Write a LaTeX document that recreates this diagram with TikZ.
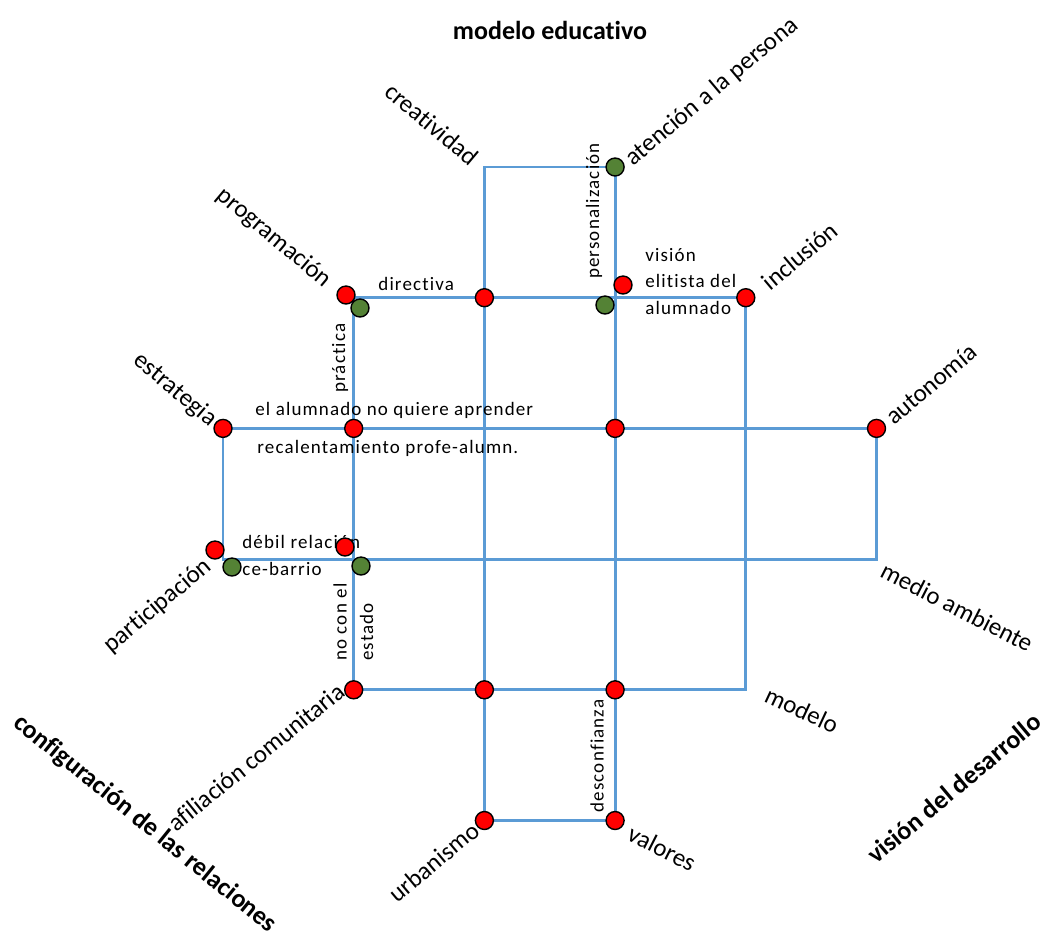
\documentclass[tikz,border=0pt]{standalone}
\usepackage{fontspec}
\setmainfont{Carlito}[Ligatures=NoCommon]
\newfontfamily\notefont[LetterSpace=6,Ligatures=NoCommon]{Carlito}
\usepackage{xcolor}
\usetikzlibrary{math}
\definecolor{qline}{RGB}{91,155,213}
\definecolor{qred}{RGB}{255,0,0}
\definecolor{qgreen}{RGB}{84,130,53}

\tikzset{
  grid line/.style={color=qline, line width=1.4pt},
  red dot/.style={circle, draw=black, fill=qred, line width=0.7pt, inner sep=0pt, minimum size=9pt},
  green dot/.style={red dot, fill=qgreen},
  axis label/.style={font=\fontsize{12.5}{15}\selectfont, inner sep=0pt},
  title label/.style={font=\fontsize{13}{15}\selectfont\bfseries, inner sep=0pt},
  note label/.style={font=\notefont\fontsize{9.5}{13.25}\selectfont, inner sep=0pt},
}

\begin{document}
\begin{tikzpicture}[x=0.5pt, y=-0.5pt]
\tikzmath{
\gx = 223;
\gy = 167;
\gd = 130.7;
}
\useasboundingbox (0,0) rectangle (1045,934);

\foreach \i in {0,...,5}
  \foreach \j in {0,...,5}
    \coordinate (g\i\j) at ({\gx+\gd*\i},{\gy+\gd*\j});

\draw[grid line] (g11) rectangle (g44);
\draw[grid line] (g20) rectangle (g35);
\draw[grid line] (g02) rectangle (g53);

\node[title label] (educativo) at (550,30) {modelo educativo};
\node[title label, rotate=-39] (relaciones) at (145,824) {configuración de las relaciones};
\node[title label, rotate=40] (desarrollo) at (954,788) {visión del desarrollo};

\node[axis label, rotate=-40] (creatividad) at (432,124) {creatividad};
\node[axis label, rotate=40] (atencion) at (712,92) {atención a la persona};
\node[axis label, rotate=-40] (programacion) at (274,238) {programación};
\node[axis label, rotate=40] (inclusion) at (800,256) {inclusión};
\node[axis label, rotate=-40] (estrategia) at (175,390) {estrategia};
\node[axis label, rotate=40] (autonomia) at (931,384) {autonomía};
\node[axis label, rotate=40] (participacion) at (158,606) {participación};
\node[axis label, rotate=-27] (medio) at (957,607) {medio ambiente};
\node[axis label, rotate=-25] (modelo) at (802,710) {modelo};
\node[axis label, rotate=-27] (valores) at (662,848) {valores};
\node[axis label, rotate=39] (afiliacion) at (256,757) {afiliación comunitaria};
\node[axis label, rotate=40] (urbanismo) at (434,862) {urbanismo};

\node[note label, anchor=base west] (directiva) at (378,290) {directiva};
\node[note label, anchor=base west] (aprender) at (255,415) {el alumnado no quiere aprender};
\node[note label, anchor=base west] (recalentamiento) at (257,453) {recalentamiento profe-alumn.};
\node[note label, anchor=base west] (debil) at (242,548) {débil relación};
\node[note label, anchor=base west] (barrio) at (242,575) {ce-barrio};
\node[note label, anchor=north west, align=left] (elitista) at (645,248) {visión\\elitista del\\alumnado};
\node[note label, rotate=90] (practica) at (340,358) {práctica};
\node[note label, rotate=90, anchor=north west, align=left] (estado) at (333,661) {no con el\\estado};
\node[note label, rotate=90] (personalizacion) at (594,211) {personalización};
\node[note label, rotate=90] (desconfianza) at (597,756) {desconfianza};

\foreach \p in {21,41,02,12,32,52,14,24,34,25,35}
  \node[red dot] (red-\p) at (g\p) {};
\node[red dot] (red-prog) at (346,295) {};
\node[red dot] (red-elit) at (623,285) {};
\node[red dot] (red-part) at (215,550) {};
\node[red dot] (red-debil) at (345,547) {};

\node[green dot] (green-aten) at (g30) {};
\node[green dot] (green-prog) at (360,308) {};
\node[green dot] (green-elit) at (605,305) {};
\node[green dot] (green-part) at (232,567) {};
\node[green dot] (green-barrio) at (361,566) {};

\end{tikzpicture}
\end{document}
